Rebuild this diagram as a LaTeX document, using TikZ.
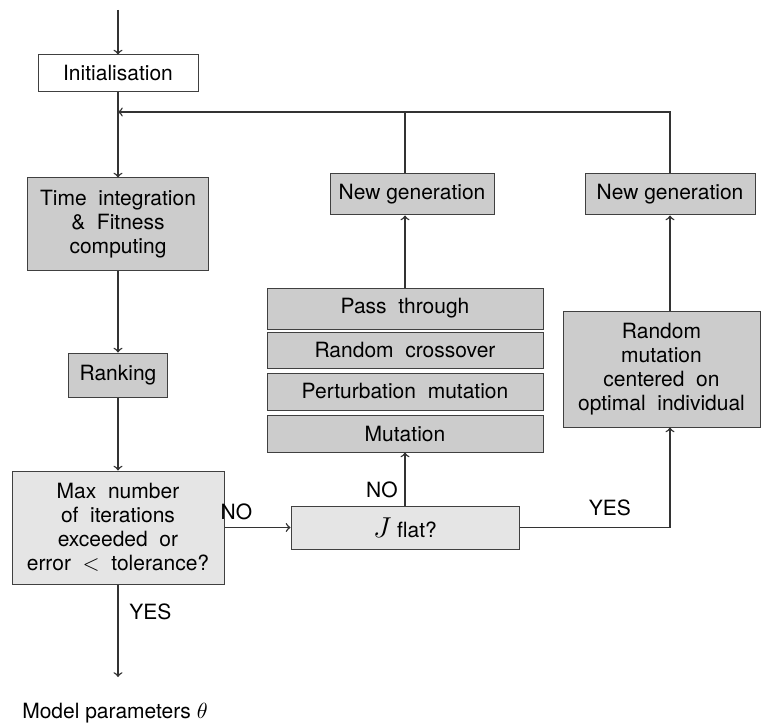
\documentclass[tikz,border=0pt]{standalone}
\usepackage{fontspec}
\setmainfont{TeX Gyre Heros}
\usetikzlibrary{positioning}

\tikzset{
  box/.style={draw=black!75, line width=0.5pt, align=center, inner sep=1pt},
  darkbox/.style={box, fill=black!20},
  lightbox/.style={box, fill=black!10},
  link/.style={line width=0.7pt, draw=black!80}
}

\begin{document}
\begin{tikzpicture}[x=0.5pt, y=-0.5pt, font=\fontsize{10.5}{12}\selectfont]
    \useasboundingbox (0,0) rectangle (765,727);

    \coordinate (start) at (118, 10) ;
    \coordinate (loop) at (118, 112) ;
    \coordinate (stop) at (118, 677) ;

    % main column
    \node[box, minimum width=80pt, minimum height=18.5pt] (init) at (118, 73.5) {Initialisation};
    \node[darkbox, minimum width=90.5pt, minimum height=46pt] (timeint) at (118, 224) {Time \ integration\\ \& \ Fitness\\ computing};
    \node[darkbox, minimum width=49.5pt, minimum height=22pt] (rank) at (118, 375) {Ranking};
    \node[lightbox, minimum width=106pt, minimum height=56.5pt] (maxit) at (118, 527.5) {Max \ number\\ of \ iterations\\ exceeded \ or\\ error \ $<$ \ tolerance?};
    \node (result) at (115, 713) {Model parameters $\theta$};

    % middle column
    \node[lightbox, minimum width=114pt, minimum height=21.5pt] (jflat) at (405, 527.5) {{\Large $J$} flat?};
    \node[darkbox, minimum width=138pt, minimum height=18.5pt] (mut) at (405, 433.5) {Mutation};
    \node[darkbox, minimum width=138pt, minimum height=18.5pt] (pert) at (405, 391.5) {Perturbation \ mutation};
    \node[darkbox, minimum width=138pt, minimum height=18pt] (cross) at (405, 350) {Random \ crossover};
    \node[darkbox, minimum width=138pt, minimum height=20.5pt] (pass) at (405, 308.5) {Pass \ through};
    \node[darkbox, minimum width=82pt, minimum height=20.5pt] (genmid) at (412, 194.5) {New generation};

    % right column
    \node[darkbox, minimum width=98.5pt, minimum height=58pt] (randmut) at (661.5, 369) {Random\\ mutation\\ centered \ on\\ optimal \ individual};
    \node[darkbox, minimum width=85pt, minimum height=20.5pt] (genright) at (670, 194.5) {New generation};

  \draw[link, ->] (start) -- (init);
  \draw[link, ->] (init) -- (timeint);
  \draw[link, ->] (timeint) -- (rank);
  \draw[link, ->] (rank) -- (maxit);
  \draw[link, ->] (maxit) -- node[pos=0.3, right, xshift=2pt]{YES} (stop);

  \draw[link, ->] (maxit.east) -- node[pos=0.12, above, xshift=2pt]{NO} (jflat.west);
  \draw[link, ->] (jflat.north) -- node[pos=0.3, left]{NO} (mut.south);
  \draw[link, ->] (pass.north) -- (pass.north |- genmid.south);
  \draw[link] (pass.north |- genmid.north) -- (pass.north |- loop);

  \draw[link, ->] (jflat.east) -| node[pos=0.3, above, yshift=2pt]{YES} (randmut.south -| genright);
  \draw[link, ->] (randmut.north -| genright) -- (genright.south);
  \draw[link, ->] (genright.north) |- (loop);

\end{tikzpicture}
\end{document}
